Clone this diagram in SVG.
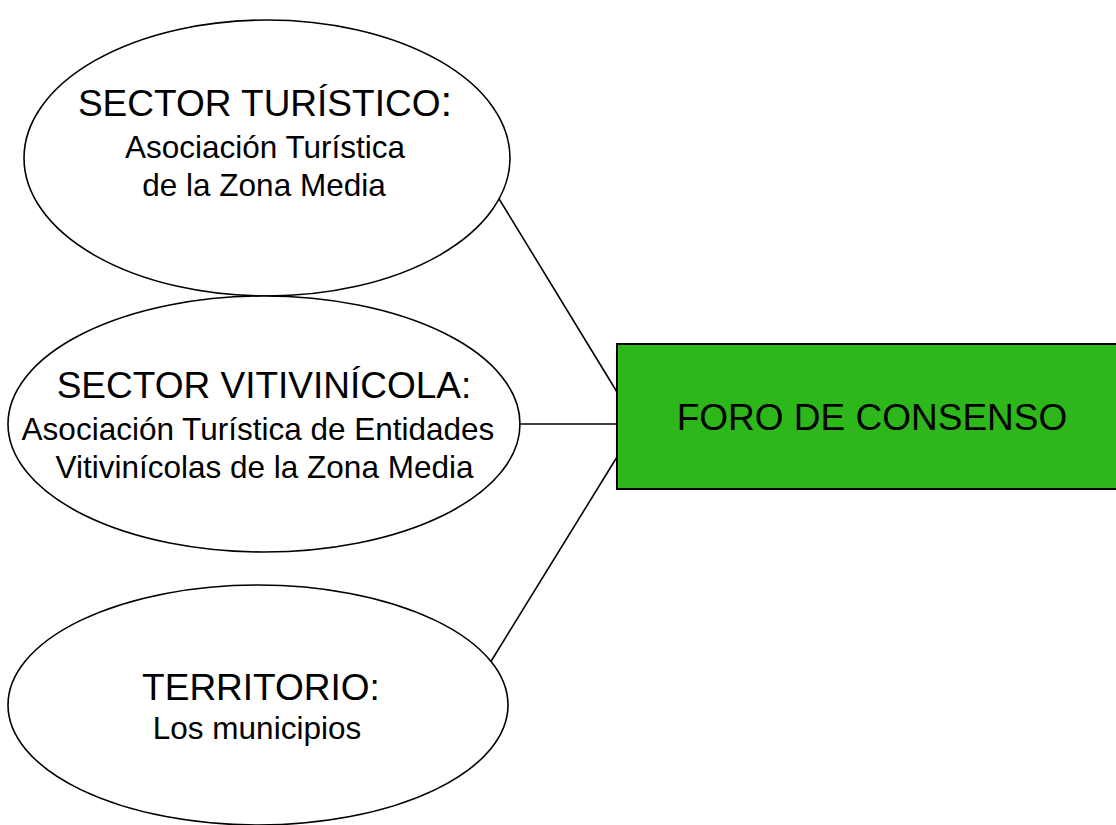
<svg xmlns="http://www.w3.org/2000/svg" width="1116" height="825" viewBox="0 0 1116 825">
<style>
.e{fill:#fff;stroke:#000;stroke-width:1.6}
.c{stroke:#000;stroke-width:1.6;fill:none}
.h{font-family:"Liberation Sans",Arial,sans-serif;font-size:37px;fill:#000;text-anchor:middle}
.s{font-family:"Liberation Sans",Arial,sans-serif;font-size:31.5px;fill:#000;text-anchor:middle}
</style>
<rect width="1116" height="825" fill="#fff"/>
<g id="connectors">
<line class="c" x1="490" y1="184" x2="617" y2="392"/>
<line class="c" x1="521" y1="424" x2="617" y2="424"/>
<line class="c" x1="490" y1="663" x2="617" y2="457"/>
</g>
<g id="turistico">
<ellipse class="e" cx="267" cy="158" rx="243" ry="138"/>
<text class="h" x="265" y="116">SECTOR TURÍSTICO<tspan font-size="42">:</tspan></text>
<text class="s" x="265" y="158">Asociación Turística</text>
<text class="s" x="264" y="196">de la Zona Media</text>
</g>
<g id="vitivinicola">
<ellipse class="e" cx="264" cy="424" rx="256" ry="128"/>
<text class="h" x="264" y="398">SECTOR VITIVINÍCOLA:</text>
<text class="s" x="258" y="440" font-size="32.6">Asociación Turística de Entidades</text>
<text class="s" x="264.5" y="478" font-size="32.3">Vitivinícolas de la Zona Media</text>
</g>
<g id="territorio">
<ellipse class="e" cx="258" cy="705" rx="250" ry="120"/>
<text class="h" x="261" y="700">TERRITORIO:</text>
<text class="s" x="257" y="739">Los municipios</text>
</g>
<g id="foro">
<rect x="617" y="344" width="510" height="145" fill="#2DB71B" stroke="#000" stroke-width="2"/>
<text class="h" x="872" y="430" font-size="36">FORO DE CONSENSO</text>
</g>
</svg>
